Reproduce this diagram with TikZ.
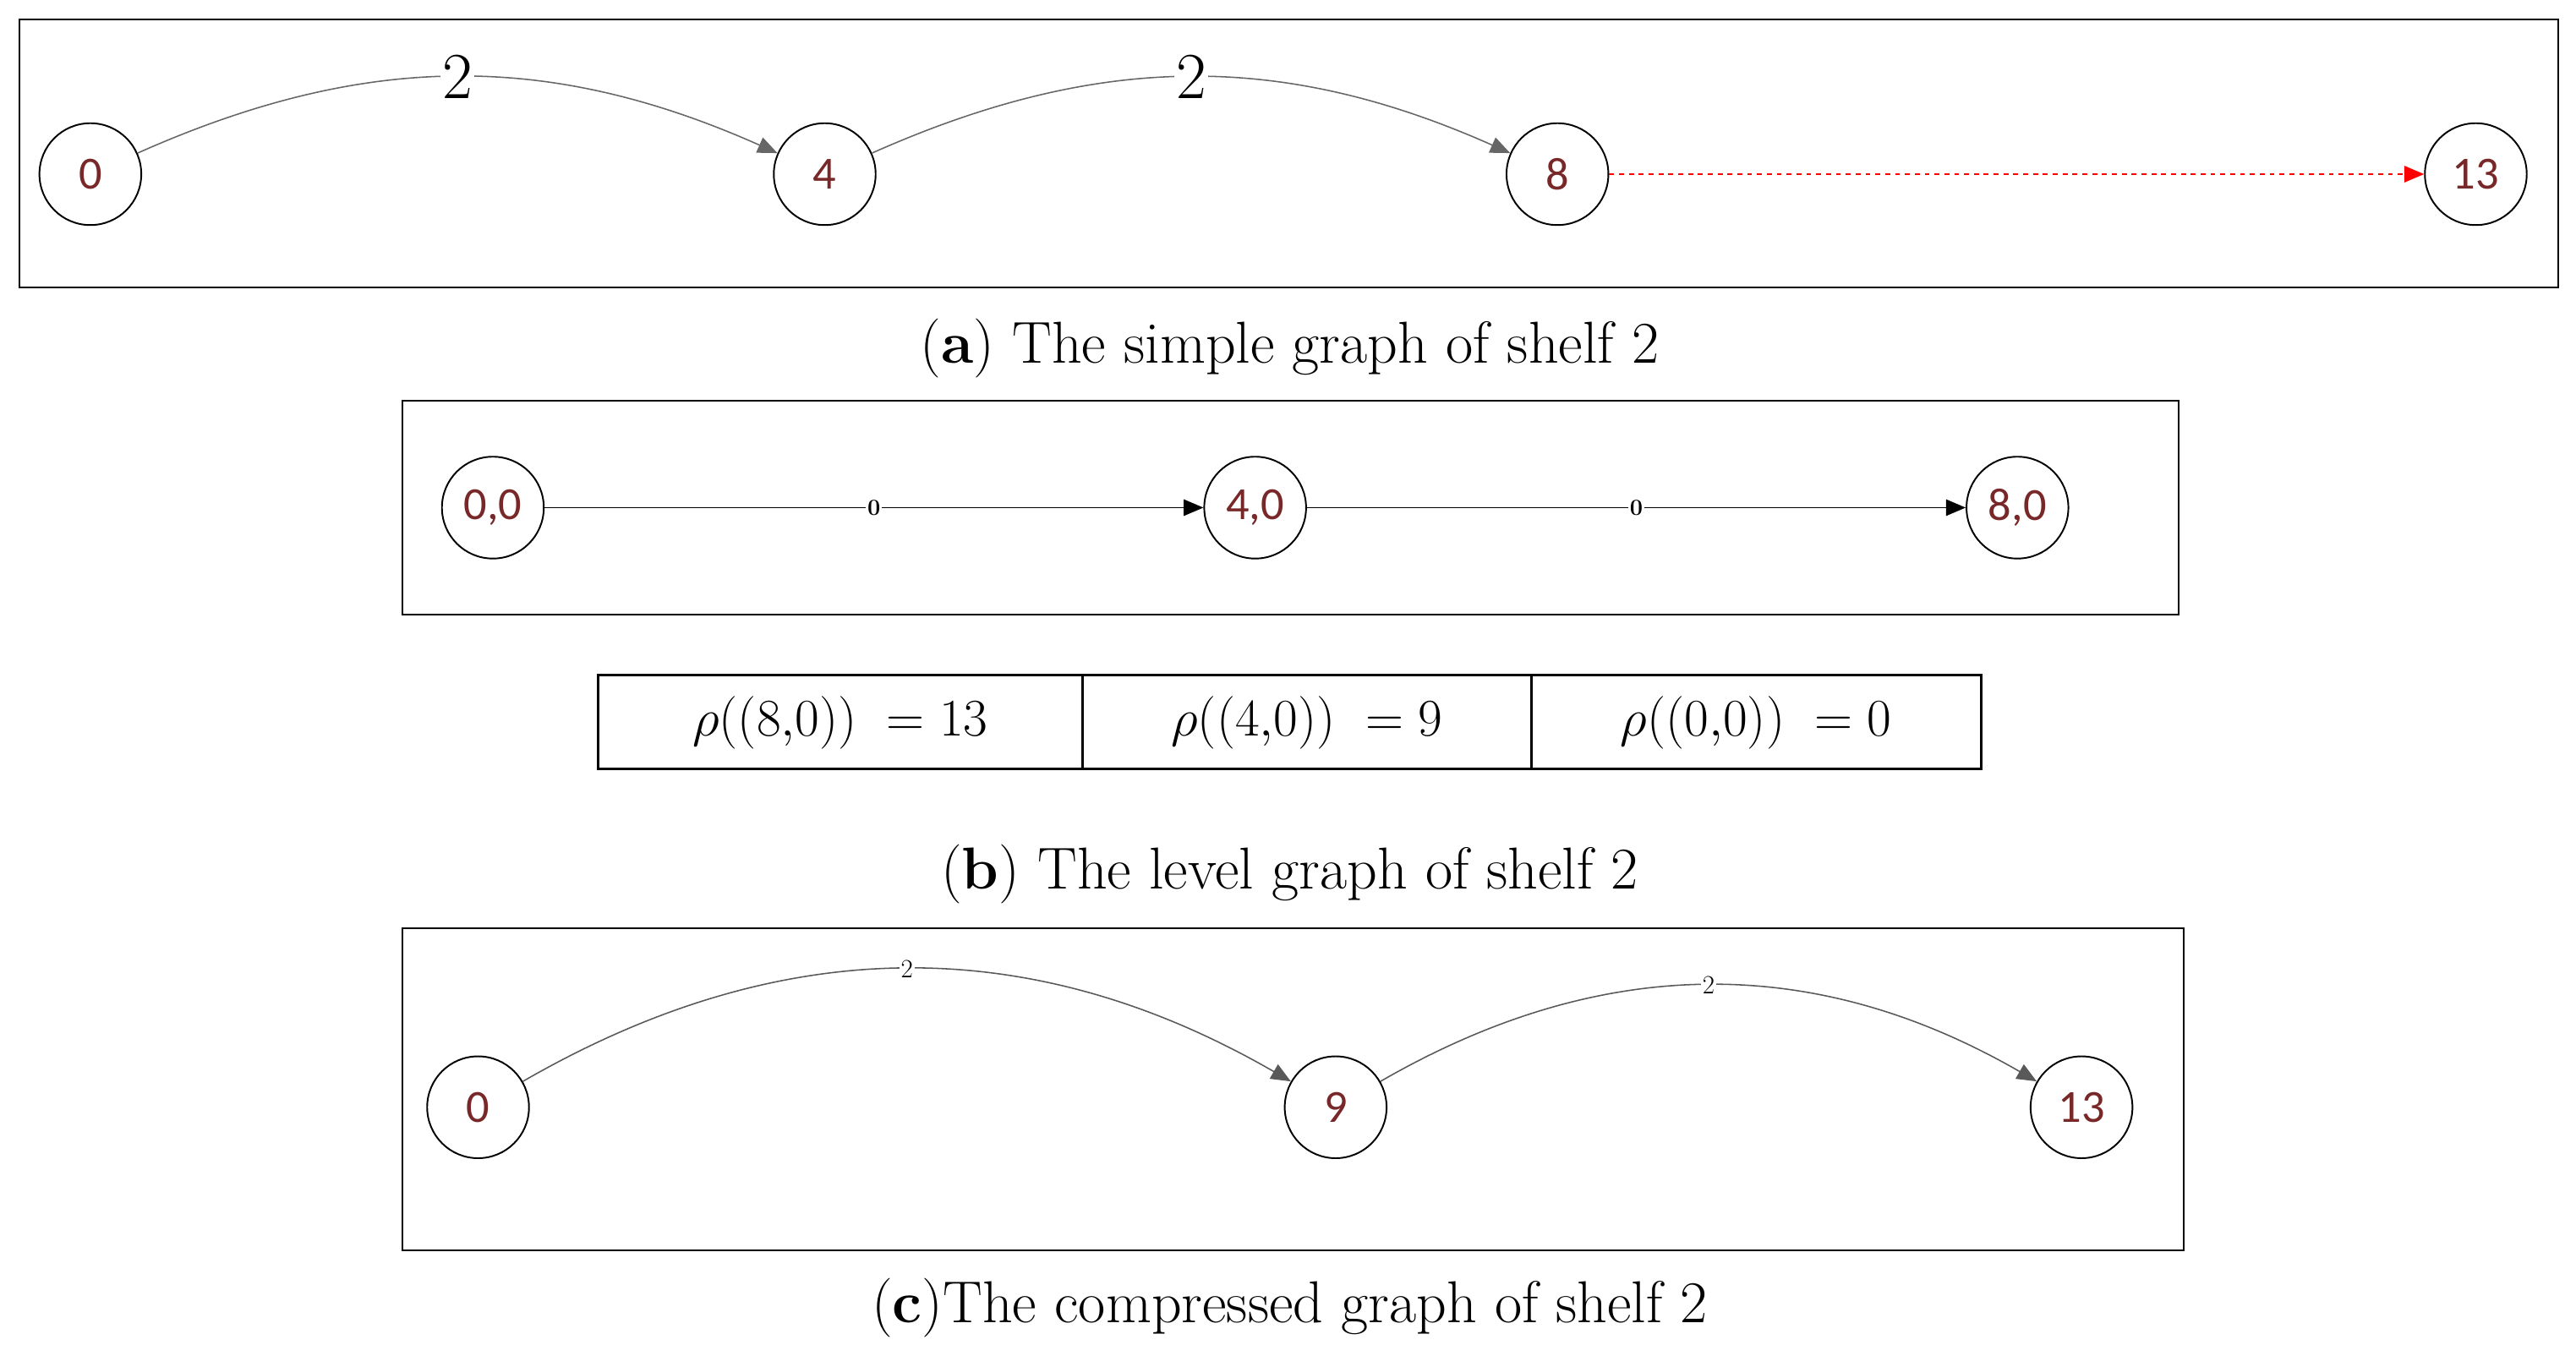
\documentclass[tikz,border=0pt]{standalone}
\usepackage{fontspec}
\newfontfamily\nodefont{Carlito}
\usetikzlibrary{arrows.meta}
\definecolor{nred}{RGB}{120,40,40}
\tikzset{
  gnode/.style={circle,draw=black,line width=1pt,minimum size=62pt,inner sep=0pt,text=nred,font=\nodefont\fontsize{28}{30}\selectfont},
  panel/.style={draw=black,line width=1pt},
  edge/.style={line width=0.8pt,-{Triangle[length=12pt,width=10pt]}},
  captext/.style={font=\fontsize{36}{40}\selectfont},
  celltext/.style={scale=1.55,font=\fontsize{20}{22}\selectfont}
}
\begin{document}
\begin{tikzpicture}[x=1pt,y=-1pt]
\useasboundingbox (0,0) rectangle (1568,832);
% panel a
\draw[panel] (12,12) rectangle (1557,175);
\node[gnode] (a0) at (55,106) {0};
\node[gnode] (a4) at (502,106) {4};
\node[gnode] (a8) at (948,106) {8};
\node[gnode] (a13) at (1507,106) {13};
\draw[edge,draw=gray!80!black] (a0) to[bend left=24] node[pos=0.5,fill=white,inner sep=1pt,text=black,font=\fontsize{40}{42}\selectfont]{2} (a4);
\draw[edge,draw=gray!80!black] (a4) to[bend left=24] node[pos=0.5,fill=white,inner sep=1pt,text=black,font=\fontsize{40}{42}\selectfont]{2} (a8);
\draw[edge,red,dashed,line width=0.8pt] (a8) -- (a13);
\node[captext] (ca) at (785,212) {(\textbf{a}) The simple graph of shelf 2};
% panel b
\draw[panel] (245,244) rectangle (1326,374);
\node[gnode] (b0) at (300,309) {0,0};
\node[gnode] (b4) at (764,309) {4,0};
\node[gnode] (b8) at (1228,309) {8,0};
\draw[edge] (b0) -- node[fill=white,inner sep=1pt,font=\bfseries\fontsize{14}{14}\selectfont]{0} (b4);
\draw[edge] (b4) -- node[fill=white,inner sep=1pt,font=\bfseries\fontsize{14}{14}\selectfont]{0} (b8);
% table
\draw[panel,line width=1.5pt] (364,411) rectangle (1206,468);
\draw[line width=1.5pt] (659,411) -- (659,468) (932,411) -- (932,468);
\node[celltext] (t1) at (511.5,440) {$\rho((8{,}0))\ = 13$};
\node[celltext] (t2) at (795.5,440) {$\rho((4{,}0))\ = 9$};
\node[celltext] (t3) at (1069,440) {$\rho((0{,}0))\ = 0$};
\node[captext] (cb) at (785,532) {(\textbf{b}) The level graph of shelf 2};
% panel c
\draw[panel] (245,565) rectangle (1329,761);
\node[gnode] (c0) at (291,674) {0};
\node[gnode] (c9) at (813,674) {9};
\node[gnode] (c13) at (1267,674) {13};
\draw[edge,draw=gray!70!black] (c0) to[bend left=30] node[pos=0.5,fill=white,inner sep=1pt,text=black,font=\fontsize{16}{16}\selectfont]{2} (c9);
\draw[edge,draw=gray!70!black] (c9) to[bend left=30] node[pos=0.5,fill=white,inner sep=1pt,text=black,font=\fontsize{16}{16}\selectfont]{2} (c13);
\node[captext] (cc) at (785,796) {(\textbf{c})The compressed graph of shelf 2};
\end{tikzpicture}
\end{document}
